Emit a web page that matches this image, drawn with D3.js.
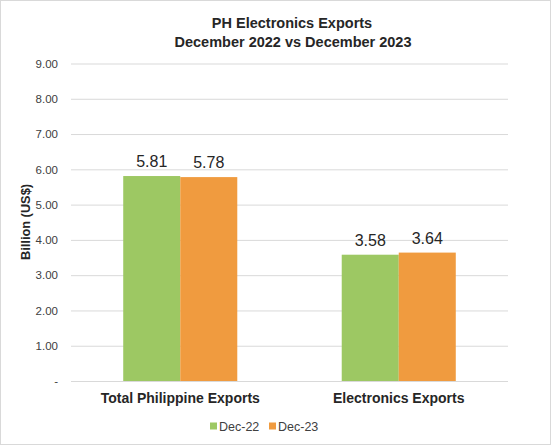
<!DOCTYPE html>
<html><head><meta charset="utf-8">
<script src="https://cdn.jsdelivr.net/npm/d3@7"></script>
<style>body{margin:0;background:#fff}svg{display:block;font-family:Arial,"Liberation Sans",sans-serif}</style>
</head><body><svg id="c" width="552" height="446"></svg>
<script>
const categories = ["Total Philippine Exports", "Electronics Exports"];
const seriesNames = ["Dec-22", "Dec-23"];
const dec22 = [5.81, 3.58];
const dec23 = [5.78, 3.64];
const yTicks = [0,1,2,3,4,5,6,7,8,9];
const colors = ["#9DC863", "#F09B3F"];

const svg = d3.select("#c");
const W = 552, H = 446;
svg.append("rect").attr("x",0.5).attr("y",0.5).attr("width",W-2).attr("height",H-2)
  .attr("fill","#fff").attr("stroke","#d9d9d9");

const m = {left:71, right:508, top:63.5, bottom:381};
const x = d3.scaleBand().domain(categories).range([m.left,m.right]).paddingInner(0.478).paddingOuter(0.239);
const y = d3.scaleLinear().domain([0,9]).range([m.bottom,m.top]);
const xs = d3.scaleBand().domain(seriesNames).range([0,x.bandwidth()]);

// grid
const yAxis = d3.axisLeft(y).tickValues(yTicks).tickSize(-(m.right-m.left))
  .tickFormat(d => d===0 ? "-" : d3.format(".2f")(d)).tickPadding(13);
const ga = svg.append("g").attr("transform",`translate(${m.left},0)`).call(yAxis);
ga.select(".domain").remove();
ga.selectAll(".tick line").attr("stroke","#d9d9d9").attr("stroke-width",1);
ga.selectAll(".tick text").attr("fill","#404040").style("font-size","11.5px")
  .style("font-family","Arial, 'Liberation Sans', sans-serif");

const series = [dec22, dec23];
const g = svg.append("g");
series.forEach((vals, si) => {
  g.selectAll(null).data(vals).enter().append("rect")
    .attr("x",(d,i)=>x(categories[i]) + xs(seriesNames[si]))
    .attr("y",d=>y(d)).attr("width",xs.bandwidth()).attr("height",d=>y(0)-y(d))
    .attr("fill",colors[si]);
  g.selectAll(null).data(vals).enter().append("text")
    .attr("x",(d,i)=>x(categories[i]) + xs(seriesNames[si]) + xs.bandwidth()/2)
    .attr("y",d=>y(d)-9).attr("text-anchor","middle")
    .attr("fill","#262626").style("font-size","16px").text(d=>d3.format(".2f")(d));
});

// x axis labels
const xAxis = d3.axisBottom(x).tickSize(0).tickPadding(12);
const gx = svg.append("g").attr("transform",`translate(0,${m.bottom})`).call(xAxis);
gx.select(".domain").remove();
gx.selectAll(".tick text").attr("fill","#262626").style("font-size","14px").style("font-weight","bold")
  .style("font-family","Arial, 'Liberation Sans', sans-serif");

// title
svg.append("text").attr("x",292).attr("y",28).attr("text-anchor","middle").attr("fill","#262626")
  .style("font-size","14.5px").style("font-weight","bold").text("PH Electronics Exports");
svg.append("text").attr("x",293).attr("y",47).attr("text-anchor","middle").attr("fill","#262626")
  .style("font-size","14.5px").style("font-weight","bold").text("December 2022 vs December 2023");

// y title
svg.append("text").attr("transform","translate(30,222) rotate(-90)").attr("text-anchor","middle")
  .attr("fill","#262626").style("font-size","12.8px").style("font-weight","bold").text("Billion (US$)");

// legend
const legX = [210, 269];
seriesNames.forEach((s,i)=>{
  svg.append("rect").attr("x",legX[i]).attr("y",422.5).attr("width",7).attr("height",7).attr("fill",colors[i]);
  svg.append("text").attr("x",legX[i]+9).attr("y",430.5).attr("fill","#404040")
    .style("font-size","12.5px").text(s);
});
</script></body></html>
